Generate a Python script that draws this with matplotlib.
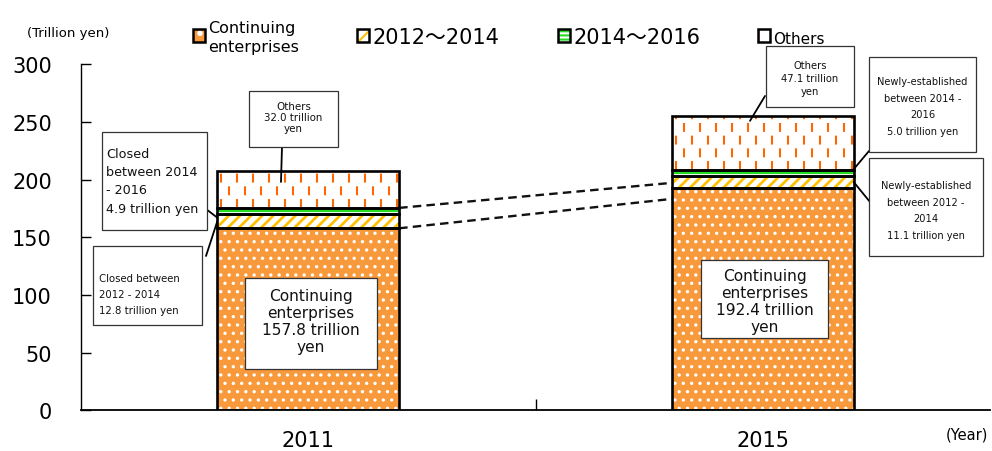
import matplotlib
matplotlib.use('Agg')
import matplotlib.pyplot as plt
import numpy as np
from matplotlib.patches import Patch, Rectangle

plt.rcParams['font.family'] = ['DejaVu Sans', 'Noto Sans CJK JP']

# ---------------- data ----------------
years = ['2011', '2015']
continuing = [157.8, 192.4]
period_2012_2014 = [12.8, 11.1]
period_2014_2016 = [4.9, 5.0]
others = [32.0, 47.1]
yticks = [0, 50, 100, 150, 200, 250, 300]
series_labels = ['Continuing\nenterprises', '2012\uff5e2014', '2014\uff5e2016', 'Others']
link_end_2015 = [183.3, 197.2]   # where the dashed guide lines meet the 2015 bar

# ---------------- style ----------------
W, H = 992, 452
ORANGE = '#F89A3C'
DASH_OR = '#FF6600'
YELLOW = '#FFC000'
GREEN = '#22DD22'
BAR_W = 0.4

fig = plt.figure(figsize=(W / 100, H / 100), dpi=100)
ax = fig.add_axes([81 / W, (H - 411.3) / H, 909 / W, 346 / H])
ax.set_xlim(-0.5, 1.5)
ax.set_ylim(0, 300)

x = np.arange(len(years))
cont = np.array(continuing)
p1 = np.array(period_2012_2014)
p2 = np.array(period_2014_2016)
oth = np.array(others)
cum1 = cont + p1
cum2 = cum1 + p2
cum3 = cum2 + oth


def set_hlw(patches, lw):
    for p in patches:
        try:
            p.set_hatch_linewidth(lw)
        except Exception:
            pass


# fills
plt.rcParams['hatch.linewidth'] = 1.2
b_cont = ax.bar(x, cont, BAR_W, color=ORANGE, edgecolor='white', linewidth=0, hatch='..', zorder=2)
set_hlw(b_cont, 1.2)
plt.rcParams['hatch.linewidth'] = 2.0
b_p1 = ax.bar(x, p1, BAR_W, bottom=cont, color='white', edgecolor=YELLOW, linewidth=0, hatch='///', zorder=2)
set_hlw(b_p1, 2.0)
plt.rcParams['hatch.linewidth'] = 1.0
b_p2 = ax.bar(x, p2, BAR_W, bottom=cum1, color='white', linewidth=0, zorder=2)
b_oth = ax.bar(x, oth, BAR_W, bottom=cum2, color='white', linewidth=0, zorder=2)

# green stripe inside the 2014-2016 segment
ax.hlines(cum1 + p2 / 2, x - BAR_W / 2, x + BAR_W / 2, color=GREEN, lw=1.6, zorder=2.5)

# vertical orange dashes texture for "Others"
sp = 8 / 454.5
for i, patch in enumerate(b_oth):
    xl = x[i] - BAR_W / 2
    cols = np.arange(xl + sp / 2, xl + BAR_W, sp)
    for j, cx in enumerate(cols):
        off = 0 if j % 2 == 0 else 6.1
        ln, = ax.plot([cx, cx], [cum2[i], cum3[i]], color=DASH_OR, lw=1.5,
                      linestyle=(off, (4.3, 7.9)), dash_capstyle='butt', zorder=2.5)
        ln.set_clip_path(patch)

# outlines
for bottoms, heights in [(np.zeros(2), cont), (cont, p1), (cum1, p2), (cum2, oth)]:
    ax.bar(x, heights, BAR_W, bottom=bottoms, fill=False, edgecolor='black', linewidth=1.9, zorder=3)

# dashed guide lines between bars
link_start = [cont[0], cum2[0]]
for ys, ye in zip(link_start, link_end_2015):
    ax.plot([x[0] + BAR_W / 2, x[1] - BAR_W / 2], [ys, ye], color='#111111', lw=1.7,
            linestyle=(0, (3.6, 2.2)), zorder=2)

# axes styling
for s in ['top', 'right']:
    ax.spines[s].set_visible(False)
ax.spines['left'].set_linewidth(1.0)
ax.spines['bottom'].set_linewidth(1.3)
ax.set_yticks(yticks)
ax.set_yticklabels([str(v) for v in yticks])
ax.tick_params(axis='y', direction='in', length=7, width=1, pad=21, labelsize=15)
ax.set_xticks(x)
ax.set_xticklabels(years)
ax.tick_params(axis='x', which='major', length=0, pad=14, labelsize=15)
ax.set_xticks([0.5], minor=True)
ax.tick_params(axis='x', which='minor', direction='in', length=8, width=1)

fig.text(27 / W, 1 - 34 / H, '(Trillion yen)', fontsize=9.5, ha='left', va='center')
fig.text(988 / W, 1 - 435 / H, '(Year)', fontsize=10.5, ha='right', va='center')

# legend
outline = dict(fill=False, edgecolor='black', lw=1.8)
plt.rcParams['hatch.linewidth'] = 1.5
h_cont = (Patch(facecolor=ORANGE, edgecolor='white', hatch='.', lw=0), Patch(**outline))
h_p1 = (Patch(facecolor='white', edgecolor=YELLOW, hatch='///', lw=0), Patch(**outline))
h_p2 = (Patch(facecolor='white', edgecolor=GREEN, hatch='----', lw=0), Patch(**outline))
h_oth = (Patch(facecolor='white', edgecolor=DASH_OR, hatch='|', lw=0), Patch(**outline))
leg = fig.legend([h_cont, h_p1, h_p2, h_oth], series_labels, loc='center left',
                 bbox_to_anchor=(193 / W, 1 - 38 / H), ncol=4, frameon=False, fontsize=15,
                 handlelength=0.58, handleheight=0.58, handletextpad=0.15,
                 columnspacing=2.8, borderpad=0, borderaxespad=0)
ts = leg.get_texts()
ts[0].set_fontsize(11.5)
ts[0].set_linespacing(1.3)
ts[3].set_fontsize(11)

# annotation boxes (pixel layout)
boxes = [
    (249, 92, 338, 148, 'Others\n32.0 trillion\nyen', 7.4, 1.17, 'center', 293.5, 118),
    (102, 133, 207, 231, 'Closed\nbetween 2014\n- 2016\n4.9 trillion yen', 9.2, 1.5, 'left', 106, 182),
    (93, 247, 202, 326, 'Closed between\n2012 - 2014\n12.8 trillion yen', 7.3, 1.8, 'left', 99, 295),
    (245, 279, 377, 370, 'Continuing\nenterprises\n157.8 trillion\nyen', 11.1, 1.17, 'center', 311, 322),
    (701, 261, 828, 339, 'Continuing\nenterprises\n192.4 trillion\nyen', 11.1, 1.17, 'center', 764.5, 302),
    (766, 47, 854, 108, 'Others\n47.1 trillion\nyen', 7.2, 1.35, 'center', 810, 79),
    (869, 58, 976, 153, 'Newly-established\nbetween 2014 -\n2016\n5.0 trillion yen', 7.1, 1.85, 'center', 922.5, 107),
    (869, 159, 983, 257, 'Newly-established\nbetween 2012 -\n2014\n11.1 trillion yen', 7.1, 1.85, 'center', 926, 211),
]
for x0, y0, x1, y1, txt, fs, ls, ha, tx, ty in boxes:
    r = Rectangle((x0 / W, 1 - y1 / H), (x1 - x0) / W, (y1 - y0) / H, transform=fig.transFigure,
                  facecolor='white', edgecolor='#333333', lw=0.9, zorder=5)
    fig.add_artist(r)
    fig.text(tx / W, 1 - ty / H, txt, ha=ha, va='center', multialignment=ha, fontsize=fs,
             linespacing=ls, zorder=6, color='#111111')

# connector lines: (box anchor in pixels) -> (point on bar in data)
left11 = x[0] - BAR_W / 2
right15 = x[1] + BAR_W / 2
connectors = [
    ((282, 148), (x[0] - 0.06, 198)),
    ((206, 210), (left11, 167)),
    ((206, 257), (left11, 164)),
    ((765, 97), (x[1] - 0.028, 251)),
    ((869, 152), (right15, 209)),
    ((870, 203), (right15, 198)),
]
for (px_, py_), (dx, dy) in connectors:
    ax.annotate('', xy=(dx, dy), xycoords='data', xytext=(px_ / W, 1 - py_ / H),
                textcoords='figure fraction',
                arrowprops=dict(arrowstyle='-', lw=1.3, color='black', shrinkA=0, shrinkB=0),
                zorder=4)

fig.savefig('out.png', dpi=100)
